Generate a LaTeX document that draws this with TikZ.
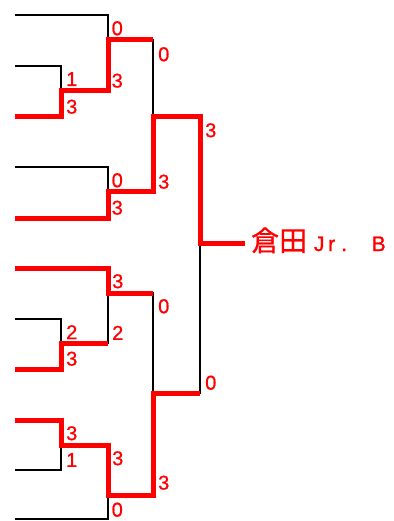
\documentclass[tikz,border=0pt]{standalone}
\usepackage{fontspec}
\setmainfont{Liberation Sans}
\newfontfamily\scfont[FakeBold=0.8]{Liberation Sans}
\newfontfamily\namefont[FakeBold=1.2]{Liberation Sans}
\newfontfamily\cjk[FakeBold=0.5]{Noto Sans CJK JP}
\begin{document}
\begin{tikzpicture}[x=1pt,y=-1pt,
  blk/.style={draw=black,line width=2.5pt,line join=miter},
  win/.style={draw=red,line width=5pt,line join=miter},
  sc/.style={text=red,inner sep=0pt,font=\scfont\fontsize{20}{20}\selectfont},
  sctop/.style={sc,anchor=north west},
  scbot/.style={sc,anchor=south west}]
\useasboundingbox (0,0) rectangle (393,521);
% leaves
\coordinate (l1) at (15,15);
\coordinate (l2) at (15,66);
\coordinate (l3) at (15,117);
\coordinate (l4) at (15,167);
\coordinate (l5) at (15,218);
\coordinate (l6) at (15,268);
\coordinate (l7) at (15,319);
\coordinate (l8) at (15,369);
\coordinate (l9) at (15,420);
\coordinate (l10) at (15,470);
\coordinate (l11) at (15,519);
% junction outputs
\coordinate (A) at (61,91);
\coordinate (B) at (108,40);
\coordinate (C) at (108,192);
\coordinate (D) at (153,117);
\coordinate (F) at (61,343);
\coordinate (E) at (108,293);
\coordinate (G) at (61,445);
\coordinate (H) at (108,495);
\coordinate (I) at (153,393);
\coordinate (K) at (200,243);
% black bracket
\draw[blk] (l1) -| (B); \draw[blk] (l2) -| (A); \draw[blk] (l3) -| (A);
\draw[blk] (A) -| (B);
\draw[blk] (l4) -| (C); \draw[blk] (l5) -| (C);
\draw[blk] (B) -| (D); \draw[blk] (C) -| (D);
\draw[blk] (l6) -| (E); \draw[blk] (l7) -| (F); \draw[blk] (l8) -| (F);
\draw[blk] (F) -| (E);
\draw[blk] (l9) -| (G); \draw[blk] (l10) -| (G);
\draw[blk] (G) -| (H); \draw[blk] (l11) -| (H);
\draw[blk] (E) -| (I); \draw[blk] (H) -| (I);
\draw[blk] (D) -| (K); \draw[blk] (I) -| (K);
% winner name
\node[text=red,anchor=base west,inner xsep=6pt,inner ysep=0pt,font=\namefont\fontsize{21}{21}\selectfont] (name) at (245,251)
  {{\cjk\fontsize{28}{28}\selectfont 倉田}\hspace{12pt}\makebox[0pt]{J}\hspace{12.5pt}\makebox[0pt]{r}\hspace{12.5pt}\makebox[0pt]{.}\hspace{34.5pt}\makebox[0pt]{B}\hspace{8pt}};
% red winner paths
\draw[win] (l3) -| (A) -| (B) -- (B -| D);
\draw[win] (l5) -| (C) -| (D) -| (K) -- (K -| name.west);
\draw[win] (l6) -| (E) -- (E -| I);
\draw[win] (l8) -| (F) -- (F -| E);
\draw[win] (l9) -| (G) -| (H) -| (I) -- (I -| K);
% scores
\node[sctop] (sA1) at (66,72) {1};   \node[scbot] (sA2) at (66,114) {3};
\node[sctop] (sB1) at (111.5,21) {0};  \node[scbot] (sB2) at (111.5,88) {3};
\node[sctop] (sC1) at (111.5,173) {0}; \node[scbot] (sC2) at (111.5,215) {3};
\node[sctop] (sD1) at (158,47) {0};  \node[scbot] (sD2) at (158,189) {3};
\node[sctop] (sE1) at (112,274) {3}; \node[scbot] (sE2) at (112,340) {2};
\node[sctop] (sF1) at (66,325) {2};  \node[scbot] (sF2) at (66,366) {3};
\node[sctop] (sG1) at (66,426) {3};  \node[scbot] (sG2) at (66,467) {1};
\node[sctop] (sH1) at (112,451) {3}; \node[scbot] (sH2) at (111.5,517) {0};
\node[sctop] (sI1) at (158,299) {0}; \node[scbot] (sI2) at (158,490) {3};
\node[sctop] (sK1) at (205,123) {3}; \node[scbot] (sK2) at (205,390) {0};
\end{tikzpicture}
\end{document}
